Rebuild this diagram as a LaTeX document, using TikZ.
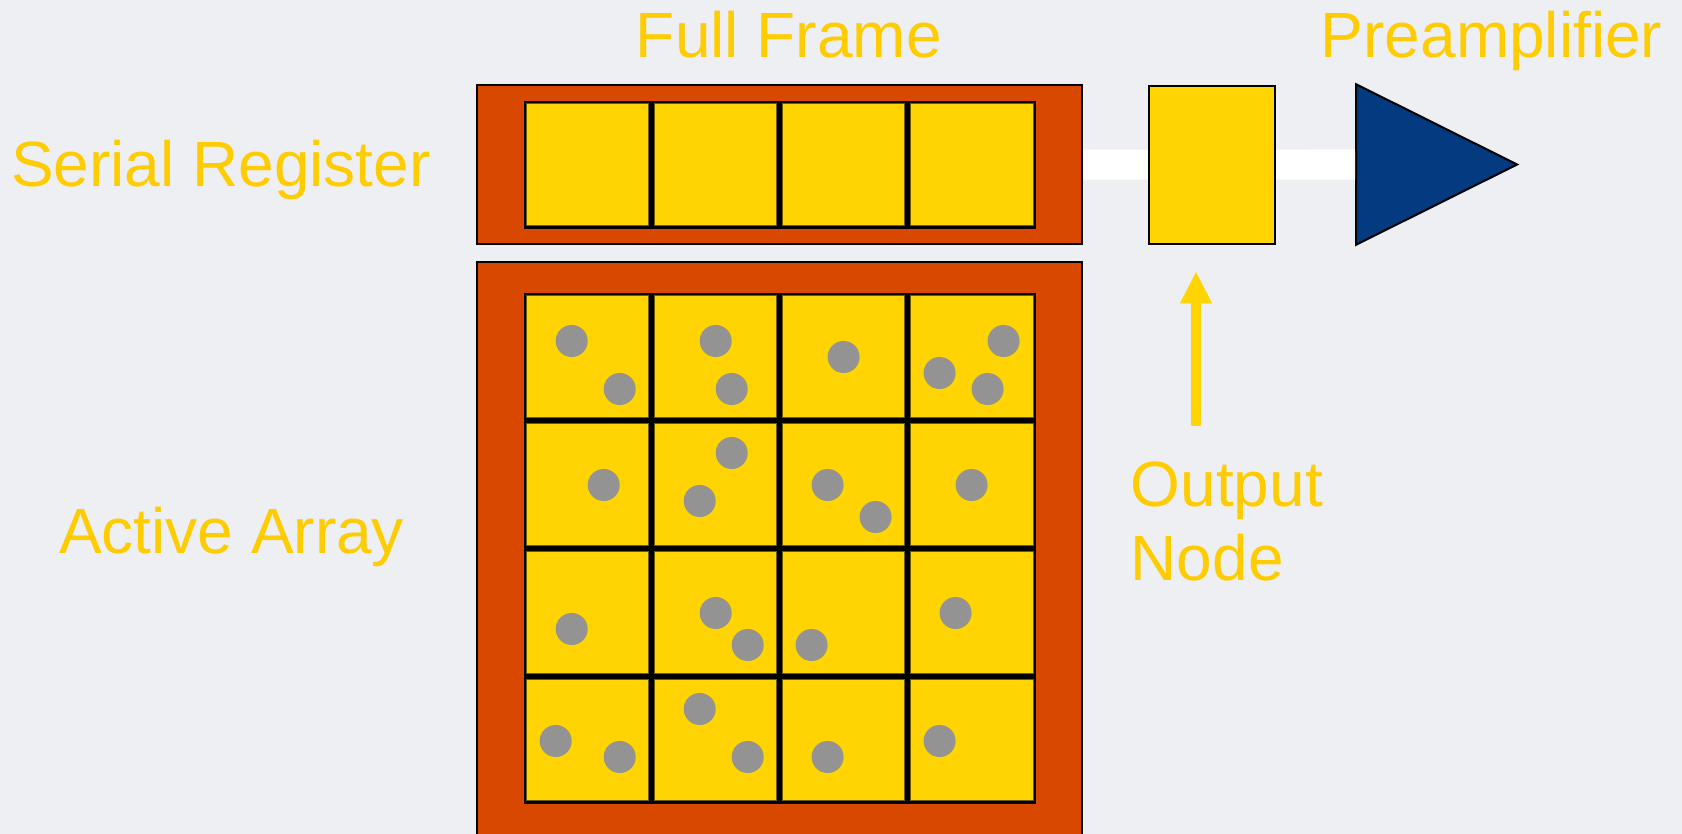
\documentclass[tikz,border=0pt]{standalone}
\usepackage{fontspec}
\setmainfont{Liberation Sans}
\usetikzlibrary{shapes.geometric,arrows.meta}
\definecolor{bgc}{RGB}{238,239,243}
\definecolor{ccdorange}{RGB}{216,72,0}
\definecolor{cellyellow}{RGB}{255,212,0}
\definecolor{txtyellow}{RGB}{255,204,0}
\definecolor{dotgray}{RGB}{147,147,147}
\definecolor{ampblue}{RGB}{3,58,128}
\definecolor{celledge}{RGB}{110,90,0}
\begin{document}
\begin{tikzpicture}[x=0.01cm,y=-0.01cm,
  lbl/.style={text=txtyellow, inner sep=0pt, font=\fontsize{18.2}{20.86}\selectfont},
  ccdframe/.style={rectangle, fill=ccdorange, draw=black, line width=0.02cm, inner sep=0pt, minimum width=6.05cm},
  pixelcell/.style={fill=cellyellow, draw=celledge, line width=0.008cm},
  charge/.style={fill=dotgray},
  gridback/.style={fill=black},
  bus/.style={draw=white, line width=0.3cm},
  readout/.style={draw=cellyellow, line width=0.1cm, -{Triangle[width=0.32cm,length=0.313cm,line width=0pt]}}
]
\fill[bgc] (0,0) rectangle (1682,834);
\useasboundingbox (0,0) rectangle (1682,834);
\clip (0,0) rectangle (1682,834);

% serial register
\node[ccdframe, minimum height=1.582cm] (serial) at (779.5,164.6) {};
\fill[gridback] (523.5,100.8) rectangle (1036,228.8);
\foreach \xa/\xb in {526.5/648.7, 654.7/776.6, 782.6/904.6, 910.6/1033}
  \draw[pixelcell] (\xa,103.8) rectangle (\xb,225.8);

% active array
\node[ccdframe, minimum height=6.2cm] (active) at (779.5,572) {};
\fill[gridback] (523.5,292.8) rectangle (1036,803.8);
\foreach \xa/\xb in {526.5/648.7, 654.7/776.6, 782.6/904.6, 910.6/1033}
  \foreach \ya/\yb in {295.8/417.7, 423.7/545.7, 551.7/673.7, 679.7/800.8}
    \draw[pixelcell] (\xa,\ya) rectangle (\xb,\yb);

% charges
\foreach \p in {(571.7,341), (619.7,389), (715.7,341), (731.7,389), (843.6,357), (1003.6,341), (939.6,373), (987.6,389),
  (603.7,485), (731.7,453), (699.7,501), (827.6,485), (875.6,517), (971.6,485),
  (571.7,629), (715.7,613), (747.7,645), (811.6,645), (955.6,613),
  (555.7,741), (619.7,757), (699.7,709), (747.7,757), (827.6,757), (939.6,741)}
  \fill[charge] \p circle[radius=0.16cm];

% preamplifier
\node[isosceles triangle, isosceles triangle stretches, shape border rotate=0,
  minimum width=1.605cm, minimum height=1.61cm, inner sep=0pt, anchor=west,
  fill=ampblue, draw=black, line width=0.02cm] (preamp) at (1355,164.5) {};

% bus
\draw[bus] (serial.east) -- (preamp.west);

% output node
\node[rectangle, fill=cellyellow, draw=black, line width=0.02cm, inner sep=0pt,
  minimum width=1.26cm, minimum height=1.58cm] (output) at (1212,164.7) {};

% readout arrow
\coordinate (arrowfoot) at (1196,425.7);
\coordinate (arrowtip) at (1196,272);
\draw[readout] (arrowfoot) -- (arrowtip);

% labels
\node[lbl, anchor=base] (fulllbl) at (788.8,57.7) {Full Frame};
\node[lbl, anchor=base east] (amplbl) at (1663,57.7) {Preamplifier};
\node[lbl, anchor=base west] (seriallbl) at (10.3,186.7) {Serial Register};
\node[lbl, anchor=base west] (activelbl) at (58.3,554) {Active Array};
\node[lbl, anchor=base west] (outlbl) at (1130,506.7) {\begin{tabular}[t]{@{}l@{}}Output\\Node\end{tabular}};
\end{tikzpicture}
\end{document}
